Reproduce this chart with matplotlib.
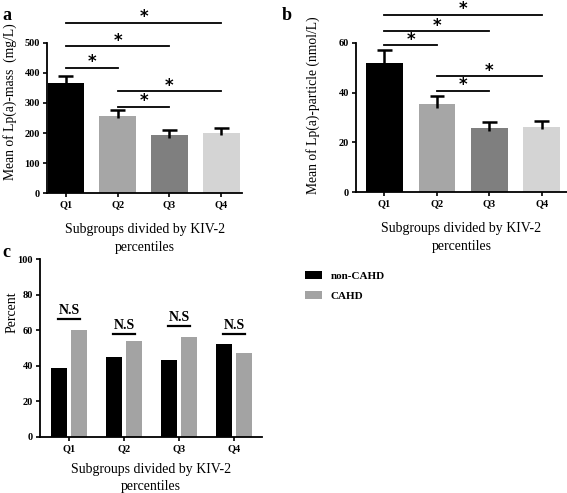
import matplotlib
matplotlib.use("Agg")
import matplotlib.pyplot as plt
from matplotlib.patches import Patch

plt.rcParams['font.family'] = ['Liberation Serif', 'DejaVu Serif']

groups = ['Q1', 'Q2', 'Q3', 'Q4']
bar_colors = ['#000000', '#a6a6a6', '#7f7f7f', '#d4d4d4']

# panel a: Lp(a)-mass
mass_mean = [366, 257, 192, 200]
mass_err = [24, 18, 18, 17]
mass_brackets = [(0, 1, 417), (0, 2, 490), (0, 3, 567), (1, 3, 340), (1, 2, 287)]

# panel b: Lp(a)-particle
part_mean = [52.0, 35.3, 25.7, 26.2]
part_err = [5.0, 3.2, 2.6, 2.5]
part_brackets = [(0, 1, 59.2), (0, 2, 64.8), (0, 3, 71.3), (1, 3, 46.7), (1, 2, 40.7)]

# panel c: percent
non_cahd = [39, 45, 43, 52]
cahd = [60, 54, 56, 47]
ns_level = [66.5, 57.7, 62.2, 57.7]

xlab = 'Subgroups divided by KIV-2\npercentiles'

fig = plt.figure(figsize=(5.67, 4.93), dpi=100)


def style(ax, ymax, step):
    ax.spines['top'].set_visible(False)
    ax.spines['right'].set_visible(False)
    ax.spines['left'].set_linewidth(1.3)
    ax.spines['bottom'].set_linewidth(1.3)
    ax.set_ylim(0, ymax)
    ax.set_yticks(range(0, ymax + 1, step))
    ax.tick_params(axis='both', length=3, width=1.2, pad=2)
    for t in ax.get_yticklabels() + ax.get_xticklabels():
        t.set_fontsize(7.5)
        t.set_fontweight('bold')


def bars_with_sig(ax, means, errs, brackets, ymax, step, star_off):
    x = list(range(len(groups)))
    ax.bar(x, means, width=0.7, color=bar_colors, zorder=2)
    tops = [m + e for m, e in zip(means, errs)]
    ax.vlines(x, [m - e * 0.4 for m, e in zip(means, errs)], tops,
              colors='black', lw=1.8, zorder=3)
    ax.hlines(tops, [i - 0.14 for i in x], [i + 0.14 for i in x],
              colors='black', lw=1.8, zorder=3)
    ax.set_xticks(x)
    ax.set_xticklabels(groups)
    style(ax, ymax, step)
    for i, j, y in brackets:
        ax.plot([i, j], [y, y], color='black', lw=1.3, clip_on=False)
        ax.text((i + j) / 2, y + star_off, '*', ha='center', va='center',
                fontsize=12, fontweight='bold', family='DejaVu Sans')


# a
ax1 = fig.add_axes([0.083, 0.6085, 0.344, 0.3043])
bars_with_sig(ax1, mass_mean, mass_err, mass_brackets, 500, 100, 18)
ax1.set_xlim(-0.36, 3.4)
ax1.set_ylabel('Mean of Lp(a)-mass  (mg/L)', fontsize=9.8)
ax1.yaxis.set_label_coords(-0.155, 0.61)
ax1.set_xlabel(xlab, fontsize=10, labelpad=10, linespacing=1.5)

# b
ax2 = fig.add_axes([0.628, 0.6105, 0.372, 0.3023])
bars_with_sig(ax2, part_mean, part_err, part_brackets, 60, 20, 2.2)
ax2.set_xlim(-0.54, 3.48)
ax2.set_ylabel('Mean of Lp(a)-particle (nmol/L)', fontsize=9.8)
ax2.yaxis.set_label_coords(-0.17, 0.58)
ax2.set_xlabel(xlab, fontsize=10, labelpad=10, linespacing=1.5)

# c
ax3 = fig.add_axes([0.0705, 0.1136, 0.3915, 0.361])
xc = range(len(groups))
w = 0.29
ax3.bar([i - 0.18 for i in xc], non_cahd, width=w, color='black', label='non-CAHD')
ax3.bar([i + 0.18 for i in xc], cahd, width=w, color='#a3a3a3', label='CAHD')
ax3.set_xticks(list(xc))
ax3.set_xticklabels(groups)
ax3.set_xlim(-0.53, 3.51)
style(ax3, 100, 20)
for i, y in zip(xc, ns_level):
    ax3.plot([i - 0.2, i + 0.2], [y, y], color='black', lw=1.6)
    ax3.text(i, y + 1.2, 'N.S', ha='center', va='bottom', fontsize=10, fontweight='bold')
ax3.set_ylabel('Percent', fontsize=10)
ax3.yaxis.set_label_coords(-0.095, 0.70)
ax3.set_xlabel(xlab, fontsize=10, labelpad=7, linespacing=1.4)

handles = [Patch(facecolor='black', label='non-CAHD'), Patch(facecolor='#a3a3a3', label='CAHD')]
leg = fig.legend(handles=handles, loc='upper left', bbox_to_anchor=(0.52, 0.47),
                 frameon=False, handlelength=1.5, handleheight=0.7,
                 prop={'size': 8, 'weight': 'bold'}, labelspacing=0.9)

fig.text(0.005, 0.985, 'a', fontsize=13, fontweight='bold', va='top')
fig.text(0.497, 0.985, 'b', fontsize=13, fontweight='bold', va='top')
fig.text(0.005, 0.505, 'c', fontsize=13, fontweight='bold', va='top')

fig.savefig('out.png', dpi=100)
